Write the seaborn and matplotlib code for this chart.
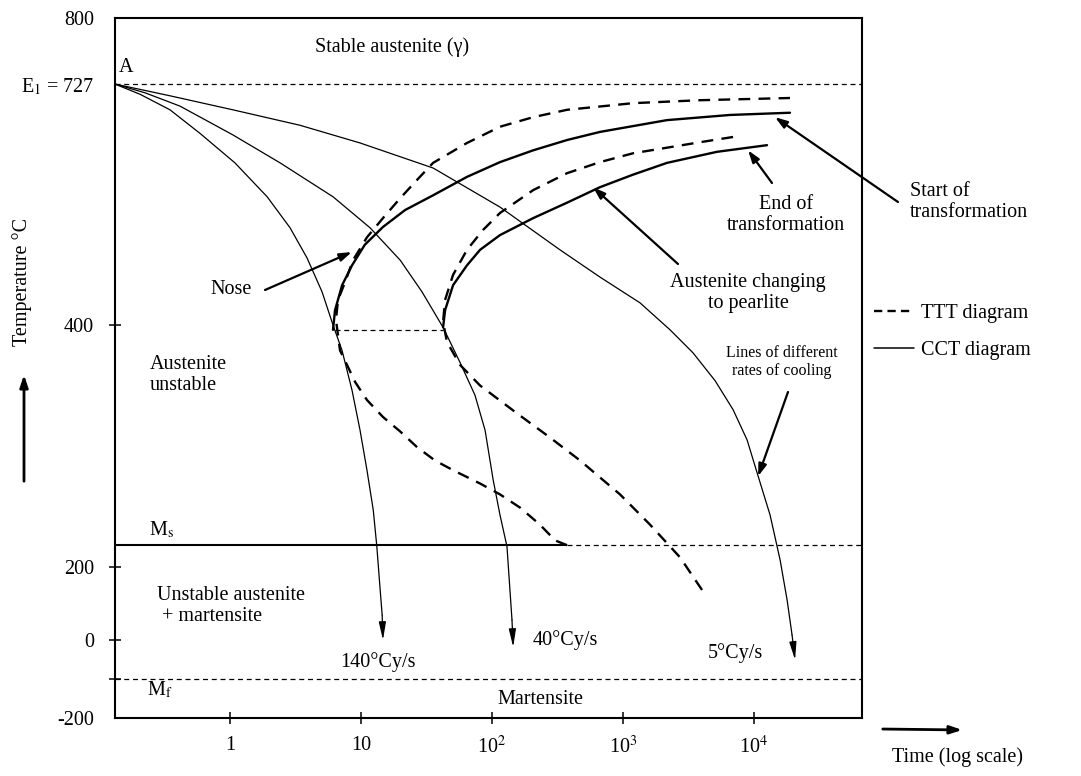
import numpy as np
import matplotlib
matplotlib.use("Agg")
import matplotlib.pyplot as plt
from matplotlib.lines import Line2D
from matplotlib.ticker import NullLocator
import seaborn as sns

# cooling curves (time in s, temperature in C)
cool_140_t = [0.132, 0.206, 0.348, 0.59, 1.09, 1.92, 2.87, 3.87, 5.04, 6.11, 7.16, 8.54,
              9.83, 11.1, 12.4, 13.2, 14.0, 14.5, 14.7]
cool_140_T = [727, 713, 692, 660, 620, 574, 532, 491, 445, 400, 379, 346,
              313, 280, 247, 217, 137, 68, 0]
cool_40_t = [0.132, 0.225, 0.415, 1.05, 2.41, 6.11, 11.7, 19.9, 29.2, 42.3, 57.0, 74.1,
             88.5, 102, 115, 130, 137, 142, 145]
cool_40_T = [727, 715, 697, 658, 620, 574, 532, 488, 445, 398, 369, 342,
             313, 272, 243, 217, 137, 55, -18]
cool_5_t = [0.132, 0.348, 1.05, 3.42, 9.83, 35.5, 115, 330, 667, 1349, 2285, 3420, 5040,
            6920, 8850, 10540, 13250, 15800, 17870, 19500, 20560]
cool_5_T = [727, 711, 692, 671, 647, 613, 560, 502, 465, 430, 396, 377, 354,
            330, 305, 278, 243, 206, 110, 14, -51]

# TTT diagram (dashed)
ttt_start_t = [374, 303, 232, 164, 115, 81, 50.4, 36.7, 26.8, 19.9, 14.7, 11.1, 9.0, 7.82,
               6.91, 6.44, 6.67, 7.55, 8.69, 11.1, 14.7, 19.9, 26.8, 35.5, 64.4, 115, 206,
               374, 1192, 3870, 18800]
ttt_start_T = [218, 222, 235, 249, 260, 269, 280, 288, 299, 312, 324, 338, 353, 367,
               379, 407, 434, 458, 488, 519, 545, 572, 597, 620, 647, 669, 682,
               692, 701, 705, 708]
ttt_end_t = [4010, 2722, 1607, 948, 667, 470, 277, 155, 81, 57, 45.3, 42.3, 43.8, 50.4,
             64.4, 85.4, 115, 206, 374, 667, 1192, 3870, 7420]
ttt_end_T = [137, 208, 235, 260, 274, 288, 307, 327, 350, 367, 386, 404, 434, 468,
             502, 529, 552, 583, 606, 621, 633, 648, 656]

# CCT diagram (solid)
cct_start_t = [6.11, 6.33, 7.17, 8.54, 10.7, 14.7, 21.7, 35.5, 64.4, 115, 206, 374, 667,
               2167, 6560, 18800]
cct_start_T = [396, 420, 454, 481, 509, 533, 556, 576, 601, 621, 637, 651, 662,
               678, 685, 688]
cct_end_t = [42.3, 43.8, 50.4, 64.4, 81, 115, 206, 374, 667, 1192, 2167, 5220, 12560]
cct_end_T = [398, 420, 454, 481, 502, 522, 545, 566, 587, 604, 620, 635, 644]

nose_link_t = [6.3, 42.3]
nose_T = 396
E1 = 727
Ms = 218
Ms_end_t = 374
Mf = -100

x_ticks = [1, 10, 100, 1000, 10000]
x_labels = ["1", "10", "10$^2$", "10$^3$", "10$^4$"]
y_ticks = [800, 727, 400, 200, 0, -100, -200]
y_labels = ["800", "E$_1$ = 727", "400", "200", "0", "", "-200"]

# arrow targets (t, T)
nose_tip = (8.5, 499)
end_tip = (9000, 637)
start_tip = (14450, 682)
pearlite_tip = (590, 587)
rates_tip = (10740, 275)

sns.set_theme(style="ticks")
plt.rcParams["font.family"] = ["Liberation Serif", "DejaVu Serif"]
plt.rcParams["mathtext.fontset"] = "stix"
plt.rcParams["axes.edgecolor"] = "black"
plt.rcParams["text.color"] = "black"
plt.rcParams["xtick.color"] = "black"
plt.rcParams["ytick.color"] = "black"

W, H = 1081, 776
FS = 14.5


def fx(px):
    return px / W


def fy(py):
    return 1 - py / H


fig = plt.figure(figsize=(W / 100, H / 100), dpi=100)
ax = fig.add_axes([fx(115), fy(718), (862 - 115) / W, (718 - 18) / H])

thin = dict(color="black", linewidth=0.9, sort=False, estimator=None, ax=ax)
sns.lineplot(x=cool_140_t[:-1], y=cool_140_T[:-1], **thin)
sns.lineplot(x=cool_40_t[:-1], y=cool_40_T[:-1], **thin)
sns.lineplot(x=cool_5_t[:-1], y=cool_5_T[:-1], **thin)

dash = dict(color="black", linewidth=1.7, linestyle=(0, (5, 3.5)), sort=False, estimator=None, ax=ax)
sns.lineplot(x=ttt_start_t, y=ttt_start_T, **dash)
sns.lineplot(x=ttt_end_t, y=ttt_end_T, **dash)

solid = dict(color="black", linewidth=1.7, sort=False, estimator=None, ax=ax)
sns.lineplot(x=cct_start_t, y=cct_start_T, **solid)
sns.lineplot(x=cct_end_t, y=cct_end_T, **solid)

# arrowheads at the end of cooling lines
for tt, TT in [(cool_140_t, cool_140_T), (cool_40_t, cool_40_T), (cool_5_t, cool_5_T)]:
    ax.annotate("", xy=(tt[-1], TT[-1]), xytext=(tt[-2], TT[-2]),
                arrowprops=dict(arrowstyle="-|>,head_length=0.9,head_width=0.18",
                                lw=0.9, color="black", shrinkA=0, shrinkB=0))

ax.set_xscale("log")
xmin, xmax = 10 ** -0.878, 10 ** 4.824
ax.set_xlim(xmin, xmax)

knot_v = np.array([-200, 0, 200, 400, 727, 800], dtype=float)
knot_p = -np.array([718, 640, 567, 325, 84, 18], dtype=float)


def fwd(v):
    return np.interp(v, knot_v, knot_p)


def inv(u):
    return np.interp(u, knot_p, knot_v)


ax.set_yscale("function", functions=(fwd, inv))
ax.set_ylim(-200, 800)

thin_dash = dict(colors="black", linewidth=0.9, linestyles=(0, (4, 3)))
ax.hlines(E1, xmin, xmax, **thin_dash)
ax.hlines(Mf, xmin, xmax, **thin_dash)
ax.hlines(Ms, Ms_end_t, xmax, **thin_dash)
ax.hlines(nose_T, nose_link_t[0], nose_link_t[1], **thin_dash)
ax.hlines(Ms, xmin, Ms_end_t, colors="black", linewidth=1.5)

ax.set_xticks(x_ticks, x_labels)
ax.xaxis.set_minor_locator(NullLocator())
ax.set_yticks(y_ticks, y_labels)
ax.yaxis.set_minor_locator(NullLocator())
ax.tick_params(direction="inout", length=8, width=1.1, labelsize=FS)
ax.tick_params(axis="x", pad=9)
ax.tick_params(axis="y", pad=11)
for tick, v in zip(ax.yaxis.get_major_ticks(), y_ticks):
    if v in (800, 727, -200):
        tick.tick1line.set_visible(False)
ax.set_xlabel("")
ax.set_ylabel("")
for sp in ax.spines.values():
    sp.set_visible(True)
    sp.set_linewidth(1.5)
    sp.set_color("black")


def label(px, py, s, **kw):
    opts = dict(ha="center", va="center", fontsize=FS, linespacing=1.2)
    opts.update(kw)
    fig.text(fx(px), fy(py), s, **opts)


label(126, 67, "A")
label(392, 47, "Stable austenite (γ)")
label(231, 290, "Nose")
label(150, 375, "Austenite\nunstable", ha="left")
label(162, 530, "M$_\\mathrm{s}$")
label(157, 606, "Unstable austenite\n + martensite", ha="left")
label(160, 690, "M$_\\mathrm{f}$")
label(540, 699, "Martensite")
label(378, 662, "140°Cy/s")
label(565, 640, "40°Cy/s")
label(735, 653, "5°Cy/s")
label(786, 215, "End of\ntransformation", multialignment="center")
label(910, 202, "Start of\ntransformation", ha="left")
label(748, 293, "Austenite changing\nto pearlite", multialignment="center")
label(782, 362, "Lines of different\nrates of cooling", fontsize=11.5, multialignment="center")
label(22, 282, "Temperature °C", rotation=90)
label(958, 757, "Time (log scale)")

arrow = dict(arrowstyle="-|>,head_length=0.6,head_width=0.2", lw=1.6, color="black",
             shrinkA=0, shrinkB=0)
for tip, tail in [(nose_tip, (265, 290)), (end_tip, (772, 183)), (start_tip, (898, 202)),
                  (pearlite_tip, (678, 264)), (rates_tip, (788, 392))]:
    ax.annotate("", xy=tip, xycoords="data", xytext=(fx(tail[0]), fy(tail[1])),
                textcoords="figure fraction", arrowprops=arrow, annotation_clip=False)

ax.annotate("", xy=(fx(24), fy(372)), xycoords="figure fraction",
            xytext=(fx(24), fy(484)), textcoords="figure fraction",
            arrowprops=dict(arrowstyle="-|>,head_length=0.6,head_width=0.2", lw=2, color="black"),
            annotation_clip=False)
ax.annotate("", xy=(fx(965), fy(730)), xycoords="figure fraction",
            xytext=(fx(880), fy(729)), textcoords="figure fraction",
            arrowprops=dict(arrowstyle="-|>,head_length=0.6,head_width=0.2", lw=2, color="black"),
            annotation_clip=False)

handles = [Line2D([], [], color="black", lw=1.7, linestyle=(0, (3.5, 2.2))),
           Line2D([], [], color="black", lw=1.1)]
fig.legend(handles, ["TTT diagram", "CCT diagram"], loc="center left",
           bbox_to_anchor=(fx(874), fy(332)), frameon=False, fontsize=FS,
           handlelength=2.0, handletextpad=0.35, labelspacing=0.85,
           borderaxespad=0, borderpad=0)

fig.savefig("out.png", dpi=100, facecolor="white")
